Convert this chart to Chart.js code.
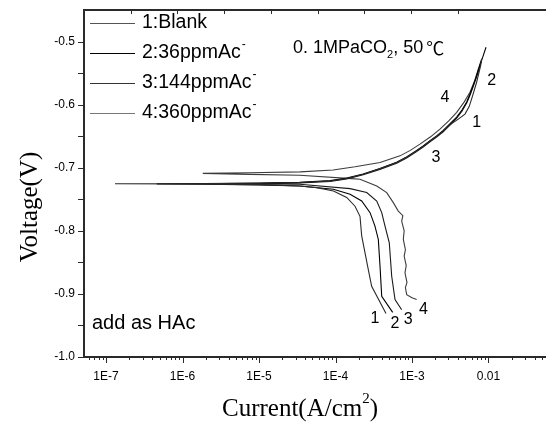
<!DOCTYPE html>
<html>
<head>
<meta charset="utf-8">
<script src="https://cdn.jsdelivr.net/npm/chart.js@4"></script>
<style>
  html, body { margin: 0; padding: 0; background: #fff; overflow: hidden; }
  #wrap { width: 546px; height: 426px; }
</style>
</head>
<body>
<div id="wrap"><canvas id="chart" width="546" height="426"></canvas></div>
<script>
// Courbes de polarisation : courant (A/cm2) et potentiel (V), du bout cathodique au bout anodique
const curveLabels = ['1:Blank', '2:36ppmAc⁻', '3:144ppmAc⁻', '4:360ppmAc⁻'];
const curveColors = ['#2a2a2a', '#000000', '#1a1a1a', '#3c3c3c'];
const legendColors = ['#555555', '#000000', '#333333', '#777777'];

const blankCurrent = [4.57e-4, 2.97e-4, 2.68e-4, 2.2e-4, 2.09e-4, 1.8e-4, 1.4e-4, 9.4e-5, 5.7e-5, 3.4e-5, 1.0e-5, 1.0e-6, 1.31e-7,
  1.0e-6, 1.0e-5, 3.4e-5, 8.5e-5, 1.4e-4, 2.3e-4, 3.8e-4, 6.3e-4, 8.5e-4, 1.15e-3, 1.4e-3, 1.72e-3, 2.1e-3, 2.56e-3,
  3.3e-3, 4.03e-3, 4.93e-3, 5.61e-3, 6.21e-3, 7.0e-3, 7.9e-3, 8.15e-3];
const blankVoltage = [-0.931, -0.888, -0.861, -0.808, -0.777, -0.761, -0.747, -0.737, -0.7315, -0.729, -0.7268, -0.7258, -0.7255,
  -0.7253, -0.7245, -0.7235, -0.721, -0.717, -0.7103, -0.7017, -0.6917, -0.6833, -0.6733, -0.666, -0.6574, -0.65, -0.6415,
  -0.630, -0.6229, -0.615, -0.6027, -0.5858, -0.5645, -0.538, -0.5275];

const ac36Current = [5.59e-4, 4.02e-4, 3.82e-4, 3.63e-4, 3.28e-4, 2.83e-4, 2.2e-4, 1.55e-4, 9.4e-5, 3.4e-5, 1.0e-5, 2.0e-6, 4.6e-7,
  2.0e-6, 1.0e-5, 3.4e-5, 8.5e-5, 1.4e-4, 2.3e-4, 3.8e-4, 6.3e-4, 8.5e-4, 1.15e-3, 1.4e-3, 1.72e-3, 2.1e-3, 2.56e-3, 3.1e-3,
  3.84e-3, 4.5e-3, 5.19e-3, 5.7e-3, 6.33e-3, 7.0e-3, 7.74e-3, 8.5e-3, 9.28e-3];
const ac36Voltage = [-0.9293, -0.9038, -0.8561, -0.8137, -0.7925, -0.7712, -0.7528, -0.7421, -0.7342, -0.7289, -0.7272, -0.726, -0.7256,
  -0.7252, -0.7243, -0.7232, -0.7205, -0.7165, -0.7098, -0.7012, -0.6912, -0.6828, -0.6728, -0.6655, -0.657, -0.6495, -0.641, -0.631,
  -0.6198, -0.6085, -0.5958, -0.584, -0.5695, -0.554, -0.5375, -0.523, -0.509];

const ac144Current = [7.33e-4, 6.0e-4, 5.43e-4, 5.05e-4, 4.44e-4, 4.02e-4, 3.46e-4, 2.56e-4, 1.55e-4, 3.4e-5, 1.0e-5, 3.3e-6,
  1.0e-5, 3.4e-5, 8.5e-5, 1.4e-4, 2.3e-4, 3.8e-4, 6.3e-4, 8.5e-4, 1.15e-3, 1.4e-3, 1.72e-3, 2.1e-3, 2.56e-3, 3.1e-3,
  3.84e-3, 4.5e-3, 5.19e-3, 5.7e-3, 6.33e-3, 7.0e-3, 7.5e-3, 8.0e-3];
const ac144Voltage = [-0.925, -0.909, -0.872, -0.819, -0.7925, -0.7712, -0.7528, -0.7394, -0.7331, -0.7262, -0.7258, -0.7255,
  -0.725, -0.724, -0.7218, -0.718, -0.7112, -0.7027, -0.6928, -0.6845, -0.6745, -0.6672, -0.6588, -0.6512, -0.643, -0.6328,
  -0.6215, -0.6102, -0.5975, -0.5858, -0.571, -0.556, -0.545, -0.532];

const ac360Current = [1.15e-3, 1.0e-3, 8.53e-4, 8.2e-4, 8.6e-4, 8.1e-4, 8.4e-4, 7.9e-4, 8.2e-4, 7.7e-4, 7.9e-4, 7.33e-4, 7.6e-4, 6.62e-4,
  5.7e-4, 4.67e-4, 3.46e-4, 2.09e-4, 1.63e-4, 3.4e-5, 7.6e-6, 1.84e-6,
  7.6e-6, 3.44e-5, 9.3e-5, 1.8e-4, 3.82e-4, 6.97e-4, 9.5e-4, 1.27e-3, 1.75e-3, 2.32e-3, 3.0e-3, 3.84e-3, 4.8e-3, 5.73e-3,
  6.6e-3, 7.36e-3, 8.15e-3];
const ac360Voltage = [-0.909, -0.906, -0.9011, -0.89, -0.882, -0.8666, -0.855, -0.84, -0.83, -0.8137, -0.80, -0.7846, -0.776, -0.7687,
  -0.7553, -0.7394, -0.7289, -0.7183, -0.7172, -0.712, -0.7105, -0.709,
  -0.708, -0.7065, -0.7035, -0.6985, -0.6917, -0.6812, -0.6725, -0.6626, -0.651, -0.6388, -0.626, -0.6122, -0.596, -0.5804,
  -0.562, -0.5434, -0.5275];

// Étiquettes des axes
const xTickValues = [1e-7, 1e-6, 1e-5, 1e-4, 1e-3, 0.01];
const xTickLabels = ['1E-7', '1E-6', '1E-5', '1E-4', '1E-3', '0.01'];
const yTickValues = [-1.0, -0.9, -0.8, -0.7, -0.6, -0.5];

// Numéros posés près des courbes
const tagTexts = ['2', '4', '1', '3', '1', '2', '3', '4'];
const tagCurrent = [0.0110, 2.70e-3, 7.01e-3, 2.06e-3, 3.28e-4, 6.0e-4, 8.95e-4, 1.41e-3];
const tagVoltage = [-0.562, -0.5884, -0.628, -0.6838, -0.9397, -0.9472, -0.9409, -0.925];

const curves = [
  [blankCurrent, blankVoltage],
  [ac36Current, ac36Voltage],
  [ac144Current, ac144Voltage],
  [ac360Current, ac360Voltage]
];

const SANS = '"Liberation Sans", Arial, sans-serif';
const SERIF = '"Liberation Serif", "Times New Roman", serif';
const FRAME = '#2a2a2a';

function isDecade(v) {
  const l = Math.log10(v);
  return Math.abs(l - Math.round(l)) < 1e-6;
}

// Traits de graduation, légende et textes
const decor = {
  id: 'decor',
  afterDraw(chart) {
    const ctx = chart.ctx;
    const a = chart.chartArea;
    const x = chart.scales.x, y = chart.scales.y, top = chart.scales.xTop;
    ctx.save();
    ctx.strokeStyle = FRAME;
    ctx.lineWidth = 1;
    ctx.beginPath();
    x.ticks.forEach(t => {
      const px = Math.round(x.getPixelForValue(t.value)) + 0.5;
      const len = isDecade(t.value) ? 6 : 3;
      ctx.moveTo(px, a.bottom); ctx.lineTo(px, a.bottom + len);
    });
    y.ticks.forEach(t => {
      const py = Math.round(y.getPixelForValue(t.value)) + 0.5;
      ctx.moveTo(a.left - 6, py); ctx.lineTo(a.left, py);
    });
    top.ticks.forEach(t => {
      const px = Math.round(top.getPixelForValue(t.value)) + 0.5;
      ctx.moveTo(px, a.top); ctx.lineTo(px, a.top + 4);
    });
    ctx.stroke();

    // légende
    ctx.textBaseline = 'middle';
    ctx.textAlign = 'left';
    chart.data.datasets.forEach((ds, i) => {
      const ly = 23 + i * 30;
      ctx.strokeStyle = legendColors[i];
      ctx.lineWidth = 1.2;
      ctx.beginPath();
      ctx.moveTo(90, ly + 0.5); ctx.lineTo(135, ly + 0.5);
      ctx.stroke();
      let txt = ds.label, sup = false;
      if (txt.endsWith('⁻')) { txt = txt.slice(0, -1); sup = true; }
      ctx.fillStyle = '#000';
      ctx.font = '19.5px ' + SANS;
      ctx.fillText(txt, 142, ly);
      if (sup) {
        const w = ctx.measureText(txt).width;
        ctx.font = '12px ' + SANS;
        ctx.fillText('-', 142 + w + 1, ly - 8);
      }
    });

    // numéros de courbes
    ctx.font = '16px ' + SANS;
    ctx.textAlign = 'center';
    tagTexts.forEach((s, i) => {
      ctx.fillText(s, x.getPixelForValue(tagCurrent[i]), y.getPixelForValue(tagVoltage[i]));
    });

    // conditions d'essai
    ctx.textAlign = 'left';
    ctx.font = '18px ' + SANS;
    let cx = 293;
    ctx.fillText('0. 1MPaCO', cx, 48);
    cx += ctx.measureText('0. 1MPaCO').width;
    ctx.font = '11px ' + SANS;
    ctx.fillText('2', cx, 55);
    cx += ctx.measureText('2').width;
    ctx.font = '18px ' + SANS;
    ctx.fillText(', 50', cx, 48);
    cx += ctx.measureText(', 50').width + 3;
    ctx.font = '18px "Noto Sans CJK SC", sans-serif';
    ctx.fillText('℃', cx, 48);

    ctx.font = '20px ' + SANS;
    ctx.fillText('add as HAc', 92, 323);

    // titres des axes
    ctx.font = '25px ' + SERIF;
    ctx.save();
    ctx.translate(30, 207);
    ctx.rotate(-Math.PI / 2);
    ctx.textAlign = 'center';
    ctx.fillText('Voltage(V)', 0, 0);
    ctx.restore();

    const t1 = 'Current(A/cm', t2 = '2', t3 = ')';
    ctx.font = '25px ' + SERIF;
    const w1 = ctx.measureText(t1).width, w3 = ctx.measureText(t3).width;
    ctx.font = '15px ' + SERIF;
    const w2 = ctx.measureText(t2).width;
    let tx = 300 - (w1 + w2 + w3) / 2;
    ctx.textAlign = 'left';
    ctx.font = '25px ' + SERIF;
    ctx.fillText(t1, tx, 409);
    tx += w1;
    ctx.font = '15px ' + SERIF;
    ctx.fillText(t2, tx, 399);
    tx += w2;
    ctx.font = '25px ' + SERIF;
    ctx.fillText(t3, tx, 409);
    ctx.restore();
  }
};

const datasets = curves.map((c, i) => ({
  label: curveLabels[i],
  data: c[0].map((v, k) => ({ x: v, y: c[1][k] })),
  showLine: true,
  pointRadius: 0,
  borderWidth: 1.1,
  borderColor: curveColors[i],
  fill: false,
  tension: 0
}));

new Chart(document.getElementById('chart').getContext('2d'), {
  type: 'scatter',
  data: { datasets: datasets },
  options: {
    responsive: false,
    animation: false,
    devicePixelRatio: 1,
    layout: { padding: 0 },
    plugins: { legend: { display: false }, tooltip: { enabled: false } },
    scales: {
      x: {
        type: 'logarithmic',
        position: 'bottom',
        min: 5.15e-8,
        max: 0.0565,
        afterFit: s => { s.height = 69; },
        afterBuildTicks: s => {
          const list = [];
          for (let e = -8; e <= -2; e++) {
            for (let m = 1; m <= 9; m++) {
              const v = m * Math.pow(10, e);
              if (v >= s.min && v <= s.max) list.push({ value: v });
            }
          }
          s.ticks = list;
        },
        ticks: {
          autoSkip: false,
          maxRotation: 0,
          padding: 2,
          color: '#000',
          font: { family: SANS, size: 12 },
          callback: v => {
            const k = xTickValues.findIndex(t => Math.abs(t - v) / t < 1e-6);
            return k >= 0 ? xTickLabels[k] : '';
          }
        },
        grid: { display: true, drawOnChartArea: false, drawTicks: true, tickLength: 10, tickColor: 'rgba(0,0,0,0)' },
        border: { display: true, color: FRAME, width: 2 }
      },
      xTop: {
        type: 'linear',
        position: 'top',
        min: 0,
        max: 9.89,
        afterFit: s => { s.height = 10; },
        ticks: { display: false, stepSize: 1 },
        grid: { display: false },
        border: { display: true, color: FRAME, width: 2 }
      },
      y: {
        type: 'linear',
        min: -1.0,
        max: -0.45,
        afterFit: s => { s.width = 84; },
        afterBuildTicks: s => {
          const list = [];
          for (let k = 0; k <= 10; k++) list.push({ value: -1.0 + k * 0.05 });
          s.ticks = list;
        },
        ticks: {
          padding: 2,
          color: '#000',
          font: { family: SANS, size: 12 },
          callback: v => {
            const k = yTickValues.findIndex(t => Math.abs(t - v) < 1e-6);
            return k >= 0 ? yTickValues[k].toFixed(1) : '';
          }
        },
        grid: { display: true, drawOnChartArea: false, drawTicks: true, tickLength: 7, tickColor: 'rgba(0,0,0,0)' },
        border: { display: true, color: FRAME, width: 2 }
      }
    }
  },
  plugins: [decor]
});
</script>
</body>
</html>
